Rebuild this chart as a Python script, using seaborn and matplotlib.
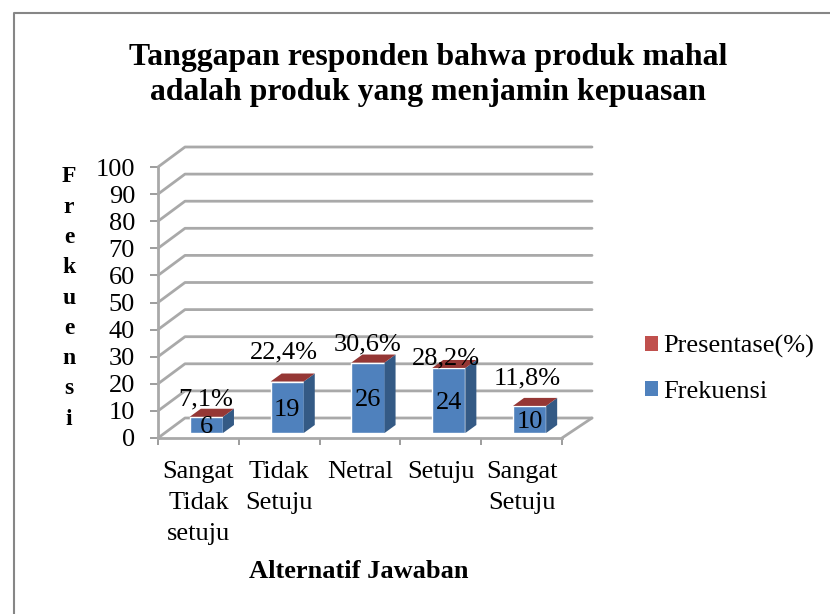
import matplotlib
matplotlib.use("Agg")
import matplotlib.pyplot as plt
import seaborn as sns
import numpy as np
from matplotlib.lines import Line2D
from matplotlib.patches import Patch, Polygon
from matplotlib.transforms import IdentityTransform

# data
kategori = ["Sangat\nTidak\nsetuju", "Tidak\nSetuju", "Netral", "Setuju", "Sangat\nSetuju"]
frekuensi = [6, 19, 26, 24, 10]
presentase = ["7,1%", "22,4%", "30,6%", "28,2%", "11,8%"]
y_ticks = [0, 10, 20, 30, 40, 50, 60, 70, 80, 90, 100]
judul = "Tanggapan responden bahwa produk mahal\nadalah produk yang menjamin kepuasan"
label_x = "Alternatif Jawaban"
label_y = "Frekuensi"

# warna
BIRU = "#4f81bd"
BIRU_GELAP = "#345a85"
MERAH = "#953735"
MERAH_LEGEND = "#c0504d"
ABU = "#a9a9a9"
ABU_TICK = "#8c8c8c"

W, H = 830, 614
sns.set_theme(style="white")
plt.rcParams["font.family"] = ["Liberation Serif", "DejaVu Serif"]
plt.rcParams["text.color"] = "black"

fig = plt.figure(figsize=(W / 100, H / 100), dpi=100)


def kotak(x0, y_atas, x1, y_bawah):
    # pixel gambar -> fraksi figure
    return [x0 / W, 1 - y_bawah / H, (x1 - x0) / W, (y_bawah - y_atas) / H]


ax = fig.add_axes(kotak(158, 167, 562, 438))
ax.set_xlim(-0.5, 4.5)
ax.set_ylim(0, 100)
ax.patch.set_alpha(0)
sns.despine(ax=ax, top=True, right=True)
for s in ["left", "bottom"]:
    ax.spines[s].set_color(ABU)
    ax.spines[s].set_linewidth(2)

# dinding belakang + lantai
DX, DY = 27, 20
for v in y_ticks:
    p = ax.transData.transform((-0.5, v))
    q = ax.transData.transform((4.5, v))
    ax.add_line(Line2D([p[0], p[0] + DX, q[0] + DX + 3], [p[1], p[1] + DY, q[1] + DY],
                       transform=IdentityTransform(), color=ABU, lw=2, zorder=1, clip_on=False))
p = ax.transData.transform((4.5, 0))
ax.add_line(Line2D([p[0], p[0] + DX + 3], [p[1], p[1] + DY], transform=IdentityTransform(),
                   color=ABU, lw=2, zorder=1, clip_on=False))

ax.set_yticks(y_ticks)
ax.set_xticks(np.arange(-0.5, 5, 1))
ax.set_xticklabels([])
ax.set_xticks(np.arange(5), kategori, minor=True)
ax.tick_params(axis="y", length=6, width=1.2, color=ABU_TICK, labelsize=19, pad=10.5, left=True,
               labelcolor="black")
ax.tick_params(axis="x", which="major", length=5, width=1.2, color=ABU_TICK, bottom=True)
ax.tick_params(axis="x", which="minor", length=0, labelsize=19, pad=16.5, labelcolor="black")
for t in ax.get_xticklabels(minor=True):
    t.set_linespacing(1.52)

# batang: digeser ke dalam ruang 3D
ax_bar = fig.add_axes(kotak(166, 162, 570, 433))
ax_bar.patch.set_alpha(0)
sns.barplot(x=list(range(5)), y=frekuensi, color=BIRU, saturation=1, width=0.41,
            native_scale=True, ax=ax_bar, zorder=3)
ax_bar.set_xlim(-0.5, 4.5)
ax_bar.set_ylim(0, 100)
ax_bar.axis("off")
ax_bar.set_xlabel("")

BX, BY = 11, 8
pct_geser = [(-1, 17), (-3, 29), (0, 18), (-3, 10), (-2, 27)]
batang = ax_bar.containers[0]
for r, teks, (gx, gy) in zip(batang, presentase, pct_geser):
    x0, y0 = ax_bar.transData.transform((r.get_x(), r.get_y()))
    x1, y1 = ax_bar.transData.transform((r.get_x() + r.get_width(), r.get_height()))
    ax_bar.add_patch(Polygon([(x1, y0), (x1 + BX, y0 + BY), (x1 + BX, y1 + BY), (x1, y1)],
                             transform=IdentityTransform(), fc=BIRU_GELAP, ec="none", zorder=3))
    ax_bar.add_patch(Polygon([(x0, y1), (x1, y1), (x1 + BX, y1 + BY), (x0 + BX, y1 + BY)],
                             transform=IdentityTransform(), fc=MERAH, ec="none", zorder=3))
    ax_bar.annotate(teks, ((x0 + x1) / 2, y1), xycoords=IdentityTransform(), xytext=(gx * 0.72, gy * 0.72),
                    textcoords="offset points", ha="center", va="center", fontsize=19, zorder=5)
for t in ax_bar.bar_label(batang, labels=[str(v) for v in frekuensi], label_type="center",
                          fontsize=19, zorder=5):
    t.set_va("center_baseline")

# judul dan label sumbu
fig.text(428 / W, 1 - 75 / H, judul, ha="center", va="center", fontsize=22.9, fontweight="bold",
         linespacing=1.28)
fig.text(359 / W, 1 - 572 / H, label_x, ha="center", va="center", fontsize=19, fontweight="bold")
fig.text(69 / W, 1 - 298 / H, "\n".join(label_y), ha="center", va="center", fontsize=17,
         fontweight="bold", linespacing=1.58)

# legenda
handle = [Patch(fc=MERAH_LEGEND, ec="none"), Patch(fc=BIRU, ec="none")]
fig.legend(handle, ["Presentase(%)", "Frekuensi"], loc="center left",
           bbox_to_anchor=(621 / W, 1 - 369 / H), frameon=False, fontsize=19,
           handlelength=0.5, handleheight=0.5, handletextpad=0.2, labelspacing=0.87)

# bingkai kiri dan atas
fig.add_artist(Line2D([13.5 / W, 13.5 / W, 1], [0, 1 - 12.5 / H, 1 - 12.5 / H],
                      transform=fig.transFigure, color="#868686", lw=1.5))

fig.savefig("out.png", dpi=100)
